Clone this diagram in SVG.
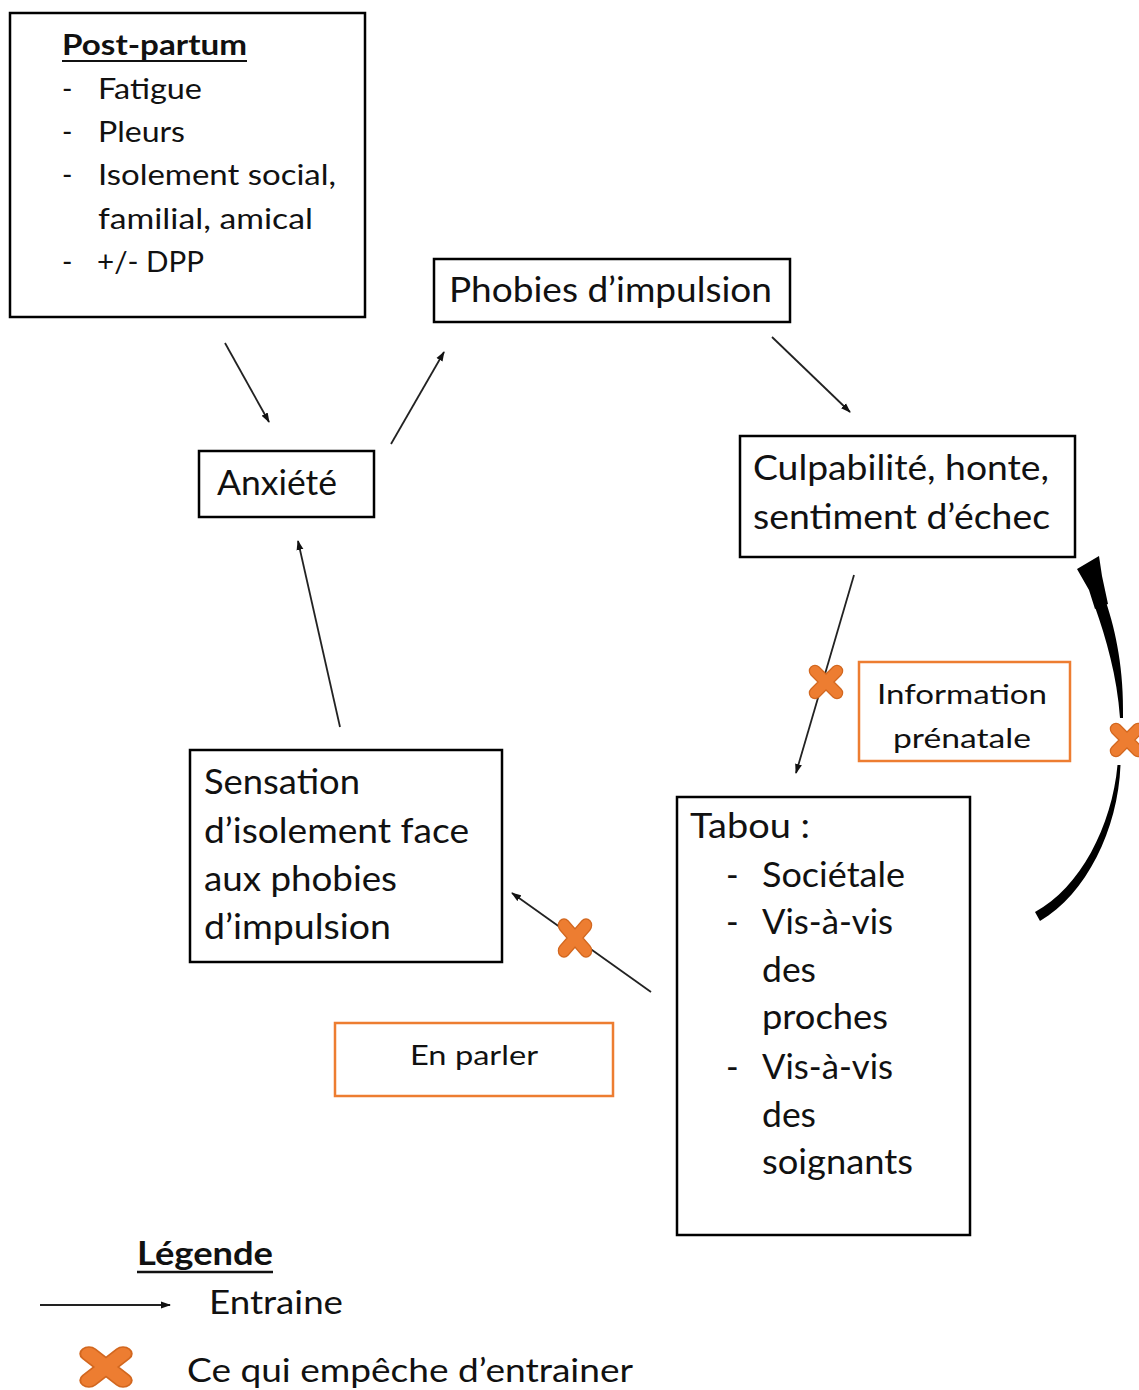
<svg xmlns="http://www.w3.org/2000/svg" width="1139" height="1390" viewBox="0 0 1139 1390">
<style>
.box{fill:#fff;stroke:#000;stroke-width:2.5}
.obox{fill:#fff;stroke:#ED7D31;stroke-width:2.5}
.t{font-family:Lato,"Liberation Sans",sans-serif;fill:#111}
.big{font-size:34px}
.med{font-size:28px}
.sm{font-size:27px}
.b{font-weight:bold}
.conn{stroke:#222;stroke-width:1.8;fill:none;marker-end:url(#ah)}
.ul{stroke:#111;stroke-width:2.2}
</style>
<defs>
<marker id="ah" markerWidth="10" markerHeight="8" refX="9" refY="4" orient="auto" markerUnits="userSpaceOnUse">
<path d="M0,0.5 L10,4 L0,7.5 z" fill="#111"/>
</marker>
<g id="xmark">
<path d="M-11,-11 L11,11 M11,-11 L-11,11" stroke="#D2671F" stroke-width="12.5" stroke-linecap="round"/>
<path d="M-11,-11 L11,11 M11,-11 L-11,11" stroke="#ED7D31" stroke-width="10" stroke-linecap="round"/>
</g>
</defs>
<rect width="1139" height="1390" fill="#fff"/>

<g id="connectors">
<line class="conn" x1="225" y1="343" x2="269" y2="422"/>
<line class="conn" x1="391" y1="444" x2="444" y2="352"/>
<line class="conn" x1="772" y1="337" x2="850" y2="412"/>
<line class="conn" x1="854" y1="575" x2="796" y2="773"/>
<line class="conn" x1="651" y1="992" x2="512" y2="893"/>
<line class="conn" x1="340" y1="727" x2="298" y2="541"/>
<g id="curved" fill="#000">
<path d="M1120.5,765 C1118,830 1086,894 1040,921 L1035,912 C1080,888 1112,826 1117.5,765 Z"/>
<path d="M1123,718 C1124,670 1116,632 1106,602 L1095,607 C1106,638 1117,676 1120,718 Z"/>
<path d="M1077,569 L1099,556 L1102,576 L1108,604 L1095,609 L1089,590 Z"/>
</g>
<use href="#xmark" x="826" y="682"/>
<use href="#xmark" transform="translate(575,938) scale(1,1.15)"/>
<use href="#xmark" x="1127" y="740"/>
</g>

<g id="node-postpartum">
<rect class="box" x="10" y="13" width="355" height="304"/>
<text class="t med b" x="62" y="55" textLength="185" lengthAdjust="spacingAndGlyphs">Post-partum</text>
<line class="ul" x1="62" y1="61" x2="247" y2="61"/>
<text class="t med" x="62" y="99">-</text>
<text class="t med" x="98" y="99" textLength="104" lengthAdjust="spacingAndGlyphs">Fatigue</text>
<text class="t med" x="62" y="142">-</text>
<text class="t med" x="98" y="142" textLength="87" lengthAdjust="spacingAndGlyphs">Pleurs</text>
<text class="t med" x="62" y="185">-</text>
<text class="t med" x="98" y="185" textLength="238" lengthAdjust="spacingAndGlyphs">Isolement social,</text>
<text class="t med" x="98" y="229" textLength="215" lengthAdjust="spacingAndGlyphs">familial, amical</text>
<text class="t med" x="62" y="272">-</text>
<text class="t med" x="97" y="272" textLength="107" lengthAdjust="spacingAndGlyphs">+/- DPP</text>
</g>

<g id="node-phobies">
<rect class="box" x="434" y="259" width="356" height="63"/>
<text class="t big" x="449" y="302" textLength="323" lengthAdjust="spacingAndGlyphs">Phobies d’impulsion</text>
</g>

<g id="node-anxiete">
<rect class="box" x="199" y="451" width="175" height="66"/>
<text class="t big" x="217" y="495" textLength="120" lengthAdjust="spacingAndGlyphs">Anxiété</text>
</g>

<g id="node-culpabilite">
<rect class="box" x="740" y="436" width="335" height="121"/>
<text class="t big" x="753" y="480" textLength="296" lengthAdjust="spacingAndGlyphs">Culpabilité, honte,</text>
<text class="t big" x="753" y="529" textLength="297" lengthAdjust="spacingAndGlyphs">sentiment d’échec</text>
</g>

<g id="node-information">
<rect class="obox" x="859" y="662" width="211" height="99"/>
<text class="t sm" x="877" y="704" textLength="170" lengthAdjust="spacingAndGlyphs">Information</text>
<text class="t sm" x="893" y="748" textLength="138" lengthAdjust="spacingAndGlyphs">prénatale</text>
</g>

<g id="node-sensation">
<rect class="box" x="190" y="750" width="312" height="212"/>
<text class="t big" x="204" y="794" textLength="156" lengthAdjust="spacingAndGlyphs">Sensation</text>
<text class="t big" x="204" y="843" textLength="265" lengthAdjust="spacingAndGlyphs">d’isolement face</text>
<text class="t big" x="204" y="891" textLength="193" lengthAdjust="spacingAndGlyphs">aux phobies</text>
<text class="t big" x="204" y="939" textLength="187" lengthAdjust="spacingAndGlyphs">d’impulsion</text>
</g>

<g id="node-tabou">
<rect class="box" x="677" y="797" width="293" height="438"/>
<text class="t big" x="690" y="838" textLength="120" lengthAdjust="spacingAndGlyphs">Tabou :</text>
<text class="t big" x="726" y="887">-</text>
<text class="t big" x="762" y="887" textLength="143" lengthAdjust="spacingAndGlyphs">Sociétale</text>
<text class="t big" x="726" y="934">-</text>
<text class="t big" x="762" y="934" textLength="131" lengthAdjust="spacingAndGlyphs">Vis-à-vis</text>
<text class="t big" x="762" y="982" textLength="54" lengthAdjust="spacingAndGlyphs">des</text>
<text class="t big" x="762" y="1029" textLength="126" lengthAdjust="spacingAndGlyphs">proches</text>
<text class="t big" x="726" y="1079">-</text>
<text class="t big" x="762" y="1079" textLength="131" lengthAdjust="spacingAndGlyphs">Vis-à-vis</text>
<text class="t big" x="762" y="1127" textLength="54" lengthAdjust="spacingAndGlyphs">des</text>
<text class="t big" x="762" y="1174" textLength="151" lengthAdjust="spacingAndGlyphs">soignants</text>
</g>

<g id="node-enparler">
<rect class="obox" x="335" y="1023" width="278" height="73"/>
<text class="t sm" x="410" y="1065" textLength="128" lengthAdjust="spacingAndGlyphs">En parler</text>
</g>

<g id="legend">
<text class="t b" style="font-size:32px" x="137" y="1265" textLength="136" lengthAdjust="spacingAndGlyphs">Légende</text>
<line class="ul" x1="137" y1="1272" x2="273" y2="1272" style="stroke-width:2.5"/>
<line class="conn" x1="40" y1="1305" x2="170" y2="1305"/>
<text class="t" style="font-size:32px" x="209" y="1314" textLength="134" lengthAdjust="spacingAndGlyphs">Entraine</text>
<use href="#xmark" transform="translate(106,1367) scale(1.55,1.2)"/>
<text class="t" style="font-size:32px" x="187" y="1382" textLength="446" lengthAdjust="spacingAndGlyphs">Ce qui empêche d’entrainer</text>
</g>
</svg>
